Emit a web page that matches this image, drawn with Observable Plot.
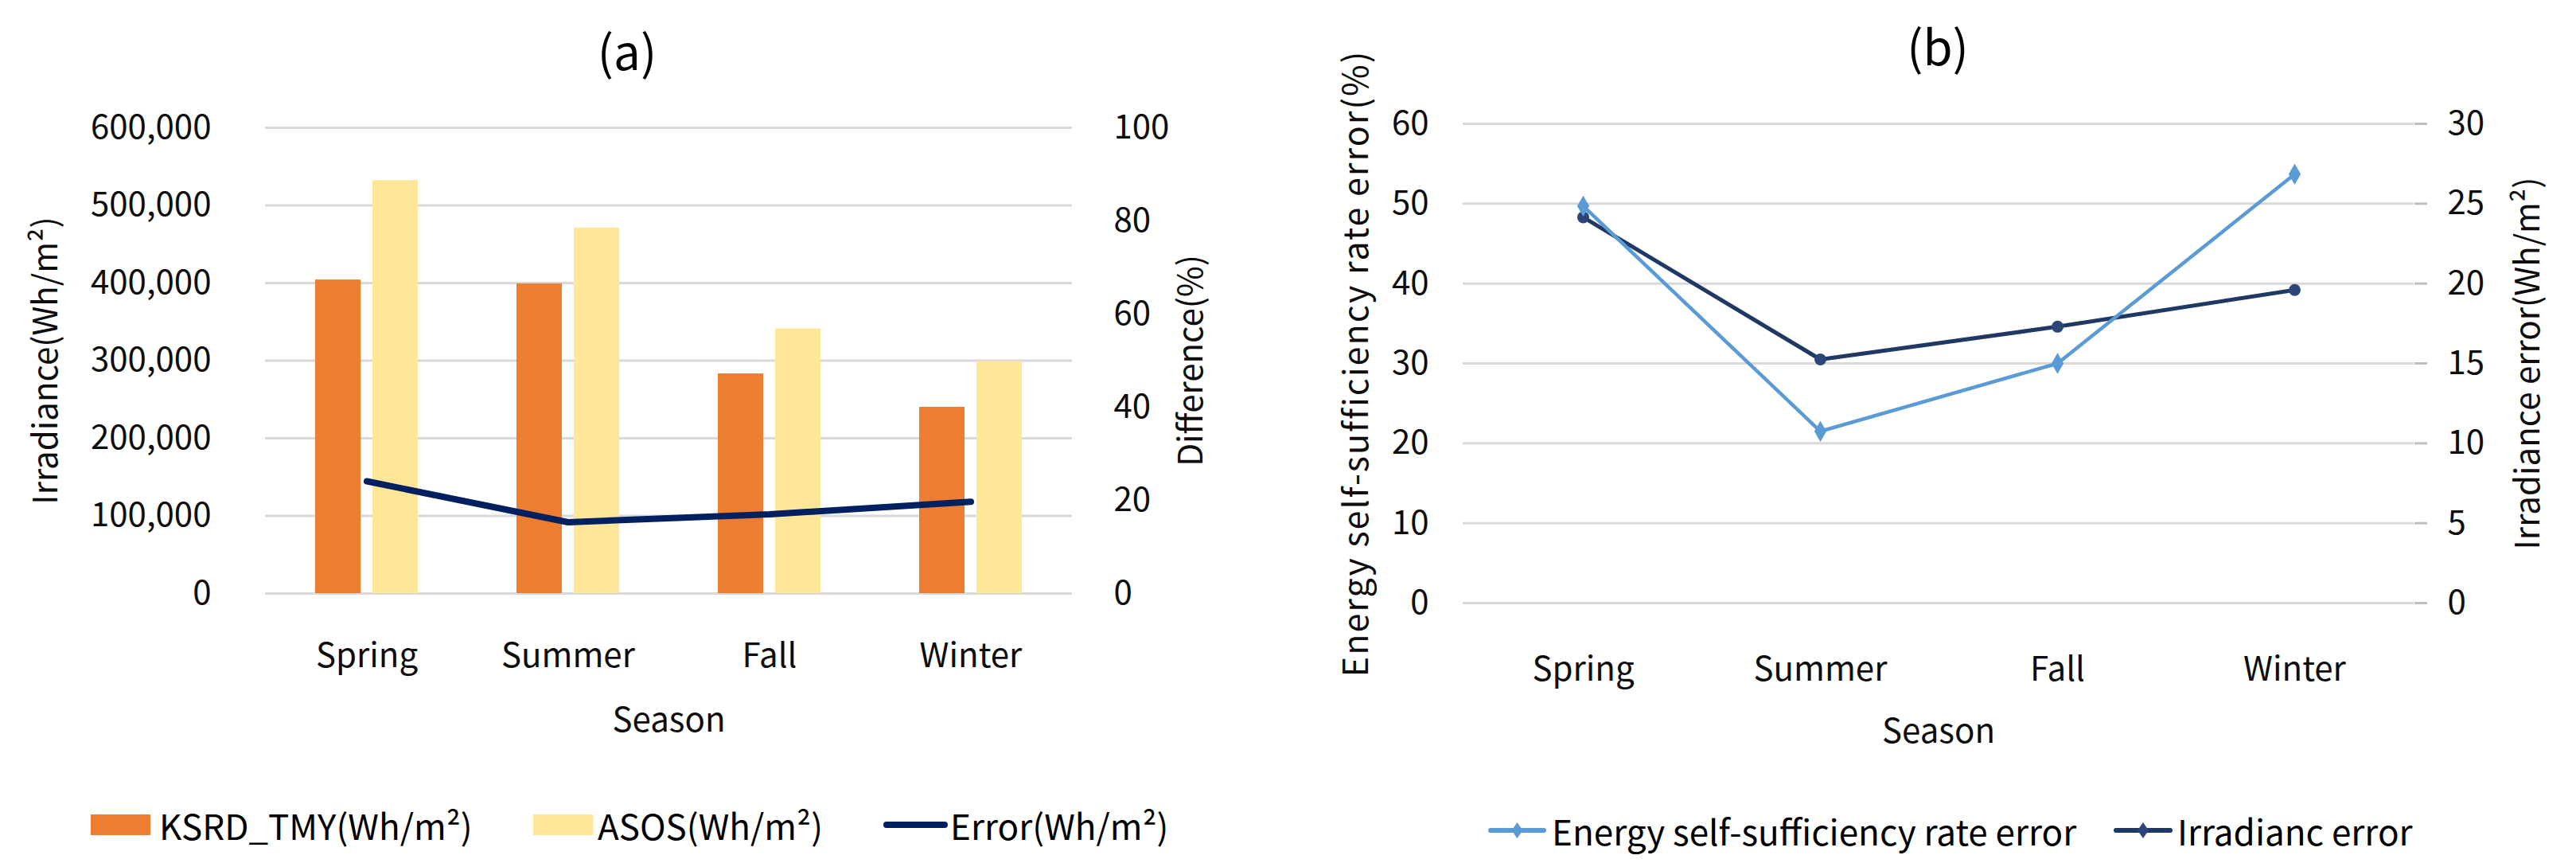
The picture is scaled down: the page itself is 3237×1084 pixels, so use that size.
<!DOCTYPE html>
<html>
<head>
<meta charset="utf-8">
<script src="https://cdn.jsdelivr.net/npm/d3@7"></script>
<script src="https://cdn.jsdelivr.net/npm/@observablehq/plot@0.6"></script>
<style>
  html, body { margin: 0; padding: 0; background: #fff; }
  #root { position: relative; width: 3237px; height: 1084px; overflow: hidden; background: #fff;
          font-family: 'Noto Sans CJK KR', 'Noto Sans', sans-serif; color: #000; }
  .panel { position: absolute; top: 0; }
  .title { position: absolute; font-size: 60px; transform: translate(-50%, -50%); white-space: nowrap; line-height: 1; }
  .lg { position: absolute; font-size: 44px; white-space: nowrap; transform: translateY(-50%); line-height: 1; }
  .sw { position: absolute; transform: translateY(-50%); }
</style>
</head>
<body>
<div id="root"></div>
<script>
// ---------- data ----------
const seasons = ["Spring", "Summer", "Fall", "Winter"];

// panel (a)
const ksrdTMY = [404000, 399000, 283000, 240000];   // Wh/m²
const asos    = [532000, 471000, 341000, 299000];   // Wh/m²
const diffPct = [24.1, 15.3, 17.0, 19.7];           // %
const irrTicksA  = [0, 100000, 200000, 300000, 400000, 500000, 600000];
const diffTicksA = [0, 20, 40, 60, 80, 100];

// panel (b)
const energyErr = [49.7, 21.5, 30.0, 53.7];          // %
const irrErr    = [24.15, 15.25, 17.3, 19.6];        // Wh/m²
const energyTicksB = [0, 10, 20, 30, 40, 50, 60];
const irrTicksB    = [0, 5, 10, 15, 20, 25, 30];

const titles = ["(a)", "(b)"];
const xTitle = "Season";
const yTitlesA = ["Irradiance(Wh/m²)", "Difference(%)"];
const yTitlesB = ["Energy self-sufficiency rate error(%)", "Irradiance error(Wh/m²)"];
const legendA = ["KSRD_TMY(Wh/m²)", "ASOS(Wh/m²)", "Error(Wh/m²)"];
const legendB = ["Energy self-sufficiency rate error", "Irradianc error"];

// ---------- styles ----------
const FONT = "'Noto Sans CJK KR', 'Noto Sans', sans-serif";
const C = { orange: "#ED7D31", yellow: "#FFE699", navy: "#002060", light: "#5B9BD5", dark: "#1F3864", darkMk: "#2C4677", grid: "#D9D9D9", text: "#0d0d0d" };

const root = document.getElementById("root");
const titleOpts = { text: d => d, textAnchor: "middle", lineAnchor: "middle", fontSize: 42, fill: C.text };

// ---------- panel (a) ----------
const rowsA = seasons.map((s, i) => ({ season: s, ksrd: ksrdTMY[i], asos: asos[i], diff: diffPct[i] }));
const kA = irrTicksA[irrTicksA.length - 1] / diffTicksA[diffTicksA.length - 1];

const plotA = Plot.plot({
  width: 1620, height: 960,
  marginLeft: 333, marginRight: 273, marginTop: 160, marginBottom: 215,
  style: { fontFamily: FONT, fontSize: "42px", color: C.text, background: "transparent", overflow: "visible" },
  x: { domain: seasons, paddingInner: 0.775, paddingOuter: 0.3875, label: null },
  y: { domain: [0, irrTicksA[irrTicksA.length - 1]], label: null },
  marks: [
    Plot.gridY(irrTicksA, { stroke: C.grid, strokeOpacity: 1, strokeWidth: 3 }),
    Plot.barY(rowsA, { x: "season", y: "ksrd", fill: C.orange, dx: -36 }),
    Plot.barY(rowsA, { x: "season", y: "asos", fill: C.yellow, dx: 36 }),
    Plot.line(rowsA, { x: "season", y: d => d.diff * kA, stroke: C.navy, strokeWidth: 8, strokeLinejoin: "round", strokeLinecap: "round" }),
    Plot.axisY({ ticks: irrTicksA, tickSize: 0, tickPadding: 68, tickFormat: d3.format(","), label: null }),
    Plot.axisY({ anchor: "right", ticks: diffTicksA.map(v => v * kA), tickSize: 0, tickPadding: 52, tickFormat: d => d3.format("d")(d / kA), label: null }),
    Plot.axisX({ tickSize: 0, tickPadding: 63, label: null }),
    Plot.text([yTitlesA[0]], { ...titleOpts, frameAnchor: "left", dx: -275, rotate: -90 }),
    Plot.text([yTitlesA[1]], { ...titleOpts, frameAnchor: "right", dx: 150, rotate: -90 }),
    Plot.text([xTitle], { ...titleOpts, frameAnchor: "bottom", dy: 160 })
  ]
});
plotA.classList.add("panel");
plotA.style.left = "0px";
root.appendChild(plotA);

// ---------- panel (b) ----------
const rowsB = seasons.map((s, i) => ({ season: s, energy: energyErr[i], irr: irrErr[i] }));
const kB = energyTicksB[energyTicksB.length - 1] / irrTicksB[irrTicksB.length - 1];

const plotB = Plot.plot({
  width: 1617, height: 960,
  marginLeft: 218, marginRight: 204, marginTop: 155, marginBottom: 203,
  style: { fontFamily: FONT, fontSize: "42px", color: C.text, background: "transparent", overflow: "visible" },
  x: { type: "point", domain: seasons, padding: 0.5, label: null },
  y: { domain: [0, energyTicksB[energyTicksB.length - 1]], label: null },
  marks: [
    Plot.gridY(energyTicksB, { stroke: C.grid, strokeOpacity: 1, strokeWidth: 3 }),
    Plot.line(rowsB, { x: "season", y: d => d.irr * kB, stroke: C.dark, strokeWidth: 5 }),
    Plot.dot(rowsB, { x: "season", y: d => d.irr * kB, symbol: "circle", r: 7.5, fill: C.darkMk, stroke: "none" }),
    Plot.line(rowsB, { x: "season", y: "energy", stroke: C.light, strokeWidth: 4.5 }),
    Plot.dot(rowsB, { x: "season", y: "energy", symbol: "diamond", r: 8, fill: C.light, stroke: "none" }),
    Plot.axisY({ ticks: energyTicksB, tickSize: 0, tickPadding: 43, label: null }),
    Plot.axisY({ anchor: "right", ticks: irrTicksB.map(v => v * kB), tickSize: 16, tickPadding: 26, tickFormat: d => d3.format("d")(d / kB),
                 stroke: "#BFBFBF", strokeWidth: 3, fill: C.text, line: true, label: null }),
    Plot.axisX({ tickSize: 0, tickPadding: 68, label: null }),
    Plot.text([yTitlesB[0]], { ...titleOpts, frameAnchor: "left", dx: -133, rotate: -90, fontSize: 43, style: "letter-spacing:2px" }),
    Plot.text([yTitlesB[1]], { ...titleOpts, frameAnchor: "right", dx: 144, rotate: -90 }),
    Plot.text([xTitle], { ...titleOpts, frameAnchor: "bottom", dy: 162 })
  ]
});
plotB.classList.add("panel");
plotB.style.left = "1620px";
root.appendChild(plotB);
// letter spacing for the long left title of panel (b)
plotB.querySelectorAll("text").forEach(t => {
  if (t.textContent === yTitlesB[0]) t.setAttribute("letter-spacing", "2");
});

// ---------- titles ----------
function addDiv(cls, text, left, top) {
  const d = document.createElement("div");
  d.className = cls; d.textContent = text;
  d.style.left = left + "px"; d.style.top = top + "px";
  root.appendChild(d);
  return d;
}
addDiv("title", titles[0], 788, 62);
addDiv("title", titles[1], 2435, 56);

// ---------- legends ----------
const NS = "http://www.w3.org/2000/svg";
function swatchRect(x, y, w, h, color) {
  const s = document.createElementNS(NS, "svg");
  s.setAttribute("width", w); s.setAttribute("height", h);
  s.setAttribute("class", "sw");
  s.style.left = x + "px"; s.style.top = y + "px";
  const r = document.createElementNS(NS, "rect");
  r.setAttribute("width", w); r.setAttribute("height", h); r.setAttribute("fill", color);
  s.appendChild(r); root.appendChild(s);
}
function swatchLine(x, y, w, color, sw, marker) {
  const h = 24;
  const s = document.createElementNS(NS, "svg");
  s.setAttribute("width", w); s.setAttribute("height", h);
  s.setAttribute("class", "sw");
  s.style.left = x + "px"; s.style.top = y + "px";
  const l = document.createElementNS(NS, "line");
  l.setAttribute("x1", sw / 2); l.setAttribute("x2", w - sw / 2); l.setAttribute("y1", h / 2); l.setAttribute("y2", h / 2);
  l.setAttribute("stroke", color); l.setAttribute("stroke-width", sw); l.setAttribute("stroke-linecap", "round");
  s.appendChild(l);
  if (marker) {
    const p = document.createElementNS(NS, "path");
    const cx = w / 2, cy = h / 2;
    p.setAttribute("d", `M${cx},${cy - 10}L${cx + 7},${cy}L${cx},${cy + 10}L${cx - 7},${cy}Z`);
    p.setAttribute("fill", marker);
    s.appendChild(p);
  }
  root.appendChild(s);
}

const lgA = 1036;
swatchRect(114, lgA, 75, 26, C.orange);   addDiv("lg", legendA[0], 200, lgA);
swatchRect(670, lgA, 75, 26, C.yellow);   addDiv("lg", legendA[1], 751, lgA);
swatchLine(1110, lgA, 81, C.navy, 8, null); addDiv("lg", legendA[2], 1194, lgA);

const lgB = 1043;
swatchLine(1870, lgB, 73, C.light, 6, C.light); addDiv("lg", legendB[0], 1950, lgB);
swatchLine(2656, lgB, 74, C.dark, 6, C.darkMk);  addDiv("lg", legendB[1], 2736, lgB);
</script>
</body>
</html>
